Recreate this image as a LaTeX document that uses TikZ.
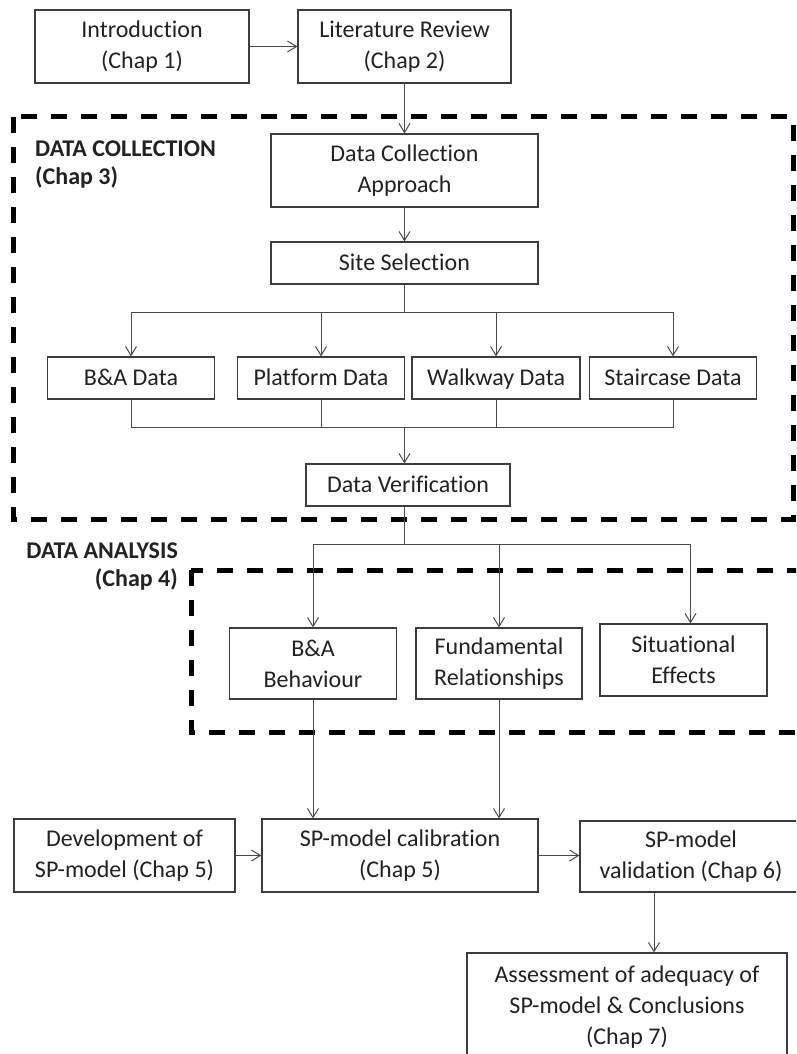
\documentclass[tikz,border=0pt]{standalone}
\usepackage{fontspec}
\setmainfont{Carlito}[Ligatures={NoCommon,NoContextual}]
\usetikzlibrary{arrows.meta}
\definecolor{boxc}{HTML}{3C3C3C}
\definecolor{arrc}{HTML}{4A4A4A}
\definecolor{txtc}{HTML}{222222}
\begin{document}
\begin{tikzpicture}[x=1pt,y=-1pt,
  box/.style={draw=boxc, line width=1.2pt, align=center, inner sep=0pt, font=\fontsize{24}{31}\selectfont, text=txtc},
  one/.style={text height=15.5pt, text depth=0pt},
  arr/.style={draw=arrc, line width=1pt, -{Straight Barb[length=9pt,width=11pt,line width=1pt]}},
  ln/.style={draw=arrc, line width=1pt},
  dbox/.style={draw=black, line width=5pt, dash pattern=on 16pt off 14pt},
  lbl/.style={font=\bfseries\fontsize{24}{28}\selectfont, text=txtc, inner sep=0pt}
]
\useasboundingbox (0,0) rectangle (796,1054);
\clip (0,0) rectangle (796,1054);
\fill[white] (0,0) rectangle (796,1054);

% dashed frames
\draw[dbox] (13,117) rectangle (793,519);
\draw[dbox] (191,570) rectangle (830,732);
\node[lbl, align=left, anchor=north west] (dc) at (35,141) {DATA COLLECTION\\(Chap 3)};
\node[lbl, align=right, anchor=north east] (da) at (178,543) {DATA ANALYSIS\\(Chap 4)};

% nodes
\node[box, minimum width=214pt, minimum height=73pt] (intro) at (142,46.5) {Introduction\\(Chap 1)};
\node[box, minimum width=213pt, minimum height=73pt] (lit) at (404.5,46.5) {Literature Review\\(Chap 2)};
\node[box, minimum width=267pt, minimum height=73pt] (appr) at (404.5,170.5) {Data Collection\\Approach};
\node[box, one, minimum width=267pt, minimum height=42pt] (site) at (404.5,263) {Site Selection};
\node[box, one, minimum width=167pt, minimum height=42pt] (bad) at (131,378) {B\&A Data};
\node[box, one, minimum width=167pt, minimum height=42pt] (plat) at (321,378) {Platform Data};
\node[box, one, minimum width=168pt, minimum height=42pt] (walk) at (496,378) {Walkway Data};
\node[box, one, minimum width=167pt, minimum height=42pt] (stc) at (673,378) {Staircase Data};
\node[box, one, minimum width=204pt, minimum height=42pt] (verif) at (408,485) {Data Verification};
\node[box, minimum width=167pt, minimum height=71pt] (bab) at (313,663.5) {B\&A\\Behaviour};
\node[box, minimum width=166pt, minimum height=71pt] (fund) at (499,663.5) {Fundamental\\Relationships};
\node[box, minimum width=167pt, minimum height=72pt] (sit) at (683.5,660) {Situational\\Effects};
\node[box, minimum width=221pt, minimum height=73pt] (dev) at (124.5,855.5) {Development of\\SP-model (Chap 5)};
\node[box, minimum width=276pt, minimum height=73pt] (cal) at (400,855.5) {SP-model calibration\\(Chap 5)};
\node[box, minimum width=222pt, minimum height=71pt] (val) at (691,856.5) {SP-model\\validation (Chap 6)};
\node[box, minimum width=320pt, minimum height=109pt] (ass) at (627,1007.5) {Assessment of adequacy of\\SP-model \& Conclusions\\(Chap 7)};

% connectors
\draw[arr] (intro.east) -- (lit.west);
\draw[arr] (lit.south) -- (appr.north);
\draw[arr] (appr.south) -- (site.north);
\draw[ln] (site.south) -- (site.south |- 0,312) coordinate (bus1);
\draw[ln] (bad.north |- bus1) -- (stc.north |- bus1);
\draw[arr] (bad.north |- bus1) -- (bad.north);
\draw[arr] (plat.north |- bus1) -- (plat.north);
\draw[arr] (walk.north |- bus1) -- (walk.north);
\draw[arr] (stc.north |- bus1) -- (stc.north);
\draw[ln] (bad.south) -- (bad.south |- 0,427) -- (stc.south |- 0,427) -- (stc.south);
\draw[ln] (plat.south) -- (plat.south |- 0,427);
\draw[ln] (walk.south) -- (walk.south |- 0,427);
\coordinate (bus2) at (lit.south |- 0,427);
\draw[arr] (bus2) -- (bus2 |- verif.north);
\coordinate (s3) at ([xshift=7pt]sit.north);
\draw[ln] (bus2 |- verif.south) -- (bus2 |- 0,544) coordinate (bus3);
\draw[ln] (bab.north |- bus3) -- (s3 |- bus3);
\draw[arr] (bab.north |- bus3) -- (bab.north);
\draw[arr] (fund.north |- bus3) -- (fund.north);
\draw[arr] (s3 |- bus3) -- (s3);
\draw[arr] (bab.south) -- (bab.south |- cal.north);
\draw[arr] (fund.south) -- (fund.south |- cal.north);
\draw[arr] (dev.east) -- (cal.west);
\draw[arr] (cal.east) -- (cal.east -| val.west);
\coordinate (v1) at ([xshift=-37pt]val.south);
\draw[arr] (v1) -- (v1 |- ass.north);
\end{tikzpicture}
\end{document}
